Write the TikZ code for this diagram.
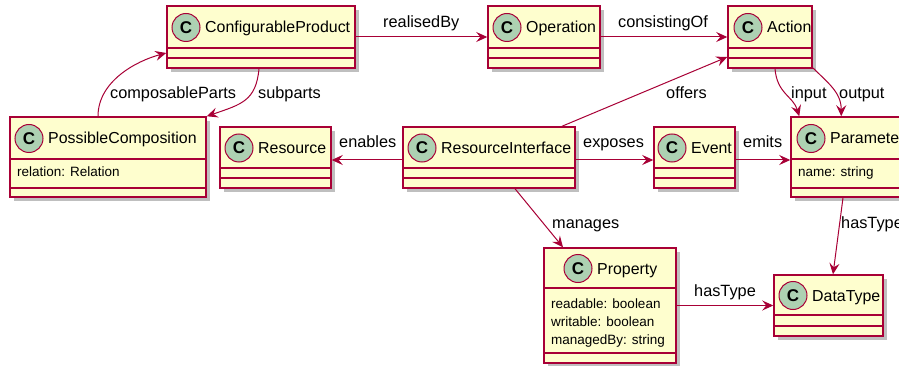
\documentclass[tikz,border=0pt]{standalone}
\usepackage{fontspec}
\setmainfont{Liberation Sans}
\usetikzlibrary{arrows.meta,fit,shadows}
\definecolor{umlborder}{HTML}{A80036}
\definecolor{umlfill}{HTML}{FEFECE}
\definecolor{umlcirc}{HTML}{ADD1B2}
\tikzset{
  clsbox/.style={draw=umlborder, fill=umlfill, line width=1.5pt, inner sep=0pt,
    drop shadow={shadow xshift=4pt, shadow yshift=-4pt, opacity=0.25, fill=black}},
  clssep/.style={draw=umlborder, line width=1.5pt},
  clscirc/.style={circle, draw=umlborder, fill=umlcirc, line width=1pt, minimum size=28pt,
    inner sep=0pt, font=\fontsize{17pt}{17pt}\selectfont\bfseries},
  clsname/.style={anchor=base west, inner sep=0pt, font=\fontsize{15.9pt}{18pt}\selectfont},
  attr/.style={anchor=base west, inner sep=0pt, font=\fontsize{13.5pt}{16pt}\selectfont},
  lbl/.style={anchor=base west, inner sep=0pt, font=\fontsize{16.3pt}{18pt}\selectfont},
  assoc/.style={draw=umlborder, line width=1pt, -{Stealth[length=11pt,width=10pt,inset=4pt]}},
}
\newcommand\umlclass[9]{%
  \node[clsbox, fit={(#2,#3) (#4,#5)}] (#1) {};
  \draw[clssep] (#2,#6) -- (#4,#6);
  \draw[clssep] (#2,#7) -- (#4,#7);
  \node[clscirc] (#1c) at ({#8},{(#3+#6)/2+0.5}) {C};
  \node[clsname] (#1n) at ({#8+19},{(#3+#6)/2+6}) {#9};
}
\begin{document}
\begin{tikzpicture}[x=1pt,y=-1pt]
\useasboundingbox (0,0) rectangle (899,366);
\fill[white] (0,0) rectangle (899,366);

\umlclass{cp}{167}{6}{355}{68}{48}{58}{186}{ConfigurableProduct}
\umlclass{op}{488}{6}{600}{68}{48}{58}{507}{Operation}
\umlclass{act}{728}{6}{812}{68}{48}{58}{748}{Action}
\umlclass{pc}{10}{117}{206}{197}{159}{188}{29}{PossibleComposition}
\umlclass{res}{220}{127}{331}{188}{168}{178}{239}{Resource}
\umlclass{ri}{403}{127}{575}{188}{168}{178}{422}{ResourceInterface}
\umlclass{ev}{654}{127}{735}{188}{168}{178}{672}{Event}
\umlclass{par}{791}{117}{910}{197}{159}{188}{811}{Parameter}
\umlclass{prop}{544}{248}{676}{363}{288}{353}{578}{Property}
\umlclass{dt}{774}{275}{883}{336}{315}{326}{793}{DataType}

% attributes
\node[attr] (pca) at (17,177) {relation: Relation};
\node[attr] (para) at (798,177) {name: string};
\node[attr] (propa1) at (551,308) {readable: boolean};
\node[attr] (propa2) at (551,326) {writable: boolean};
\node[attr] (propa3) at (551,344) {managedBy: string};

% connectors
\draw[assoc] (cp.east) -- (op.west);
\draw[assoc] (op.east) -- (act.west);
\draw[assoc] ([xshift=-10pt]pc.north) .. controls +(0,-35) and +(-30,8) .. ([yshift=-16pt]cp.west);
\draw[assoc] ([xshift=-2pt]cp.south) .. controls +(-3,32) and +(35,-12) .. (pc.north east);
\coordinate (riw) at ([yshift=-2.5pt]ri.west);
\coordinate (rie) at ([yshift=-2.5pt]ri.east);
\coordinate (eve) at ([yshift=-2.5pt]ev.east);
\draw[assoc] (riw) -- (riw -| res.east);
\draw[assoc] (rie) -- (rie -| ev.west);
\draw[assoc] (eve) -- (eve -| par.west);
\draw[assoc] ([xshift=73pt]ri.north) -- ([yshift=-20pt]act.west);
\draw[assoc] ([xshift=5pt]act.south) .. controls +(2,25) and +(-6,-20) .. ([xshift=9pt]par.north west);
\draw[assoc] ([xshift=-1pt,yshift=2pt]act.south east) .. controls +(16,16) and +(0,-24) .. ([xshift=51pt]par.north west);
\draw[assoc] ([xshift=26pt]ri.south) -- ([xshift=-47pt]prop.north);
\draw[assoc] (prop.east) -- (dt.west);
\draw[assoc] ([xshift=-7.5pt]par.south) -- ([xshift=4.5pt]dt.north);

% labels
\node[lbl] (l1) at (383,28) {realisedBy};
\node[lbl] (l2) at (618,28) {consistingOf};
\node[lbl] (l3) at (110,99) {composableParts};
\node[lbl] (l4) at (258,99) {subparts};
\node[lbl] (l5) at (339,148) {enables};
\node[lbl] (l6) at (583,148) {exposes};
\node[lbl] (l7) at (743,148) {emits};
\node[lbl] (l8) at (666,99) {offers};
\node[lbl] (l9) at (791,99) {input};
\node[lbl] (l10) at (839,99) {output};
\node[lbl] (l11) at (552,228) {manages};
\node[lbl] (l12) at (694,296) {hasType};
\node[lbl] (l13) at (841,228) {hasType};
\end{tikzpicture}
\end{document}
